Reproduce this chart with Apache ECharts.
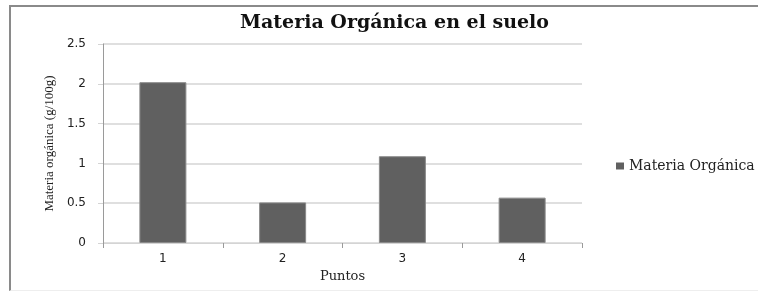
<!DOCTYPE html>
<html>
<head>
<meta charset="utf-8">
<script src="https://cdn.jsdelivr.net/npm/echarts@6/dist/echarts.min.js"></script>
<style>
  html, body { margin: 0; padding: 0; background: #fff; }
  #wrap { position: relative; width: 758px; height: 291px; }
  #frame {
    position: absolute; left: 9px; top: 5px; width: 749px; bottom: 0;
    border-left: 2px solid #8a8a8a; border-top: 2px solid #8a8a8a;
    border-bottom: 1px solid #eeeeee;
  }
  #mychart { position: absolute; left: 0; top: 0; width: 758px; height: 291px; }
</style>
</head>
<body>
<div id="wrap">
  <div id="frame"></div>
  <div id="mychart"></div>
</div>
<script>
// datos del gráfico
let puntos = ['1', '2', '3', '4'];
let materiaOrganica = [2.02, 0.51, 1.09, 0.57];
let serieNombre = 'Materia Orgánica';

let colors = {
  bar: '#606060',
  barBorder: '#8a8a8a',
  grid: '#d4d4d4',
  axis: '#9a9a9a',
  text: '#222222',
};

let myChart = echarts.init(document.getElementById('mychart'));

let option = {
  animation: false,
  title: {
    text: 'Materia Orgánica en el suelo',
    left: 235,
    top: 9,
    textStyle: {
      fontFamily: 'DejaVu Serif',
      fontWeight: 'bold',
      fontSize: 19,
      color: '#111',
    },
  },
  legend: {
    data: [serieNombre],
    left: 611,
    top: 154,
    itemWidth: 8,
    itemHeight: 7,
    icon: 'rect',
    itemGap: 5,
    itemStyle: { borderWidth: 0 },
    textStyle: {
      fontFamily: 'DejaVu Serif',
      fontSize: 14,
      color: colors.text,
    },
  },
  grid: {
    left: 103,
    right: 176,
    top: 44,
    bottom: 48,
  },
  xAxis: {
    type: 'category',
    data: puntos,
    name: 'Puntos',
    nameLocation: 'middle',
    nameGap: 22,
    nameTextStyle: {
      fontFamily: 'DejaVu Serif',
      fontSize: 13,
      color: colors.text,
    },
    axisLine: { lineStyle: { color: colors.grid, width: 1 } },
    axisTick: { show: true, length: 5, lineStyle: { color: colors.axis } },
    axisLabel: {
      margin: 10,
      fontFamily: 'DejaVu Sans',
      fontSize: 12,
      color: colors.text,
    },
  },
  yAxis: {
    type: 'value',
    min: 0,
    max: 2.5,
    interval: 0.5,
    name: 'Materia orgánica (g/100g)',
    nameLocation: 'middle',
    nameGap: 44,
    nameTextStyle: {
      fontFamily: 'Liberation Serif',
      fontSize: 13,
      color: colors.text,
    },
    axisLine: { show: true, lineStyle: { color: colors.axis, width: 1 } },
    axisTick: { show: true, length: 5, lineStyle: { color: colors.grid } },
    axisLabel: {
      margin: 17,
      fontFamily: 'DejaVu Sans',
      fontSize: 12,
      color: colors.text,
    },
    splitLine: { lineStyle: { color: colors.grid, width: 1.5 } },
  },
  series: [
    {
      name: serieNombre,
      type: 'bar',
      data: materiaOrganica,
      barWidth: 47,
      itemStyle: {
        color: colors.bar,
        borderColor: colors.barBorder,
        borderWidth: 1,
      },
    },
  ],
};

myChart.setOption(option);
</script>
</body>
</html>
